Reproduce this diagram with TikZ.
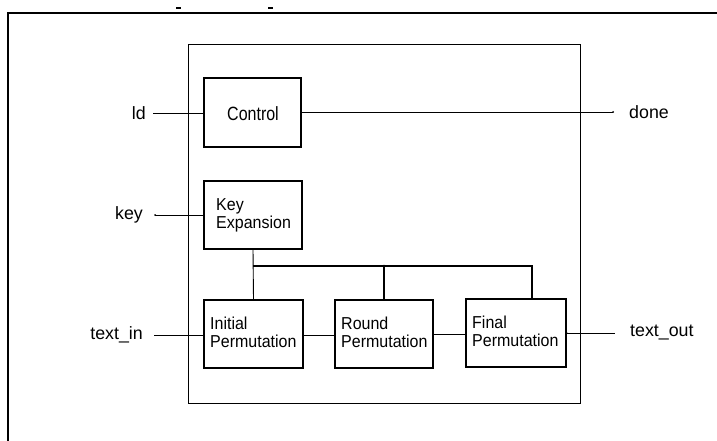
\documentclass[tikz,border=0pt]{standalone}
\usepackage{graphicx}
\usepackage{fontspec}
\setmainfont{Liberation Sans}
\newcommand{\tallbox}[2]{\scalebox{1}[#1]{\begin{tabular}{@{}l@{}}#2\end{tabular}}}
\begin{document}
\begin{tikzpicture}[x=1pt,y=-1pt,
  blk/.style={draw,line width=1.3pt,inner sep=0pt},
  wire/.style={line width=0.9pt},
  lbl/.style={font=\fontsize{17.8}{17.8}\selectfont,inner sep=0pt},
  btxt/.style={font=\fontsize{16}{16.5}\selectfont,inner sep=0pt,anchor=west}]
\useasboundingbox (0,0) rectangle (717,441);
% outer frame (left and top edges)
\draw[line width=2pt] (8,441) -- (8,13) -- (717,13);
\draw[line width=1.5pt] (176,8) -- (181,8) (268,8) -- (273,8);
% inner box
\draw[line width=1pt] (188,45) rectangle (580,403);
% blocks
\node[blk,minimum width=97pt,minimum height=69pt] (ctl) at (252.5,112.5) {};
\node[font=\fontsize{16}{17.5}\selectfont,inner sep=0pt] at (253,114) {\scalebox{1}[1.2]{Control}};
\node[blk,minimum width=98pt,minimum height=68pt] (kx) at (253,215) {};
\node[btxt] at (216,216) {\tallbox{1.08}{Key\\Expansion}};
\node[blk,minimum width=99pt,minimum height=68pt] (ip) at (253.5,334) {};
\node[btxt] at (210,335) {\tallbox{1.08}{Initial\\Permutation}};
\node[blk,minimum width=98pt,minimum height=68pt] (rp) at (384,334) {};
\node[btxt] at (341,335) {\tallbox{1.08}{Round\\Permutation}};
\node[blk,minimum width=100pt,minimum height=68pt] (fp) at (516,333) {};
\node[btxt] at (472,334) {\tallbox{1.08}{Final\\Permutation}};
% labels
\node[lbl,anchor=east] (ld) at (146,113) {ld};
\node[lbl,anchor=east] (key) at (143,215) {key};
\node[lbl,anchor=east] (tin) at (143,335) {text\_in};
\node[lbl,anchor=west] (done) at (629,112) {done};
\node[lbl,anchor=west] (tout) at (630,333) {text\_out};
% connectors
\coordinate (ldE) at (153,113);
\coordinate (keyE) at (155,215);
\coordinate (tinE) at (154,335);
\coordinate (doneE) at (613,112);
\coordinate (toutE) at (615,333);
\draw[wire] (ldE) -- (ctl.west |- ldE);
\draw[wire] (keyE) -- (kx.west |- keyE);
\fill (keyE) circle (1pt);
\draw[wire] (tinE) -- (ip.west |- tinE);
\draw[wire] (ctl.east |- doneE) -- (doneE);
\fill (doneE) circle (1pt);
\draw[wire] (fp.east |- toutE) -- (toutE);
\fill (fp.east |- toutE) circle (1pt);
\draw[wire] (ip.east |- 0,335) -- (rp.west |- 0,335);
\draw[wire] (rp.east |- 0,334) -- (fp.west |- 0,334);
% key bus
\coordinate (b1) at (253,266);
\coordinate (b2) at (384,266);
\coordinate (b3) at (532,266);
\draw[wire] (kx.south) -- (ip.north);
\draw[wire,line width=1.2pt] (b1) -- (b3) -- (b3 |- fp.north);
\draw[wire,line width=1.2pt] (b2) -- (rp.north);
\fill (b2) circle (1.3pt);
\end{tikzpicture}
\end{document}
